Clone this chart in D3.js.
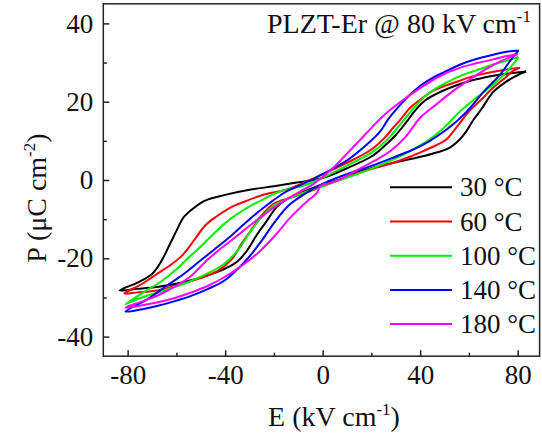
<!DOCTYPE html>
<html><head><meta charset="utf-8">
<script src="https://cdn.jsdelivr.net/npm/d3@7"></script>
<style>body{margin:0;background:#fff} svg{display:block}</style>
</head><body><svg id="c" width="542" height="442"></svg>
<script>
// ---- data (E in kV/cm, P in uC/cm2), each loop: descending branch then ascending branch
const seriesNames = ["30 \u00B0C", "60 \u00B0C", "100 \u00B0C", "140 \u00B0C", "180 \u00B0C"];
const xTicks = [-80, -40, 0, 40, 80];
const xMinorTicks = [-60, -20, 20, 60];
const yTicks = [-40, -20, 0, 20, 40];
const yMinorTicks = [-30, -10, 10, 30];

const loop30 = [
  [83.5,27.7],[78,27.3],[70,26.6],[60,25.2],[52,23.5],[46,21.8],[42,20.3],[38,17.8],[34,14.5],[30,11.5],[25,8.5],[20,6],[10,3],[0,0.5],[-10,-0.6],[-20,-1.6],[-30,-2.5],[-40,-3.8],[-48,-5.2],[-53,-7.2],[-57,-9.5],[-60,-13],[-63,-16.8],[-66,-20.5],[-70,-24],[-76,-26.2],[-83.3,-28.2],
  [-76,-27.8],[-68,-27.3],[-60,-26.5],[-54,-25.6],[-46,-24.1],[-40,-22.6],[-35,-20.8],[-31,-18],[-27,-14],[-23,-10.5],[-19,-7],[-15,-5],[-10,-3.6],[0,-1.1],[8,0.3],[15,2.1],[25,3.8],[35,5.2],[45,6.7],[52,8.2],[56,10.2],[59,12.5],[62,15.5],[65,18],[70,22.5],[75,25],[80,26.8],[83.5,27.7]
];
const loop60 = [
  [81,28.7],[76,28.3],[68,27.4],[60,26.2],[56,25.3],[50,24],[45,22.7],[40,20.5],[36,18.5],[32,15.5],[29,13.4],[25,10.5],[20,7.8],[10,4.4],[0,1.5],[-7,-0.5],[-15,-2.5],[-24,-3.7],[-32,-5.5],[-38,-7.1],[-44,-9.5],[-48,-11.5],[-52,-14.7],[-55,-17.3],[-58,-19.5],[-62,-21.5],[-68,-24],[-74,-26.5],[-81.4,-29],
  [-76,-28.7],[-68,-28.2],[-60,-27],[-54,-25.8],[-48,-24.6],[-43,-23.2],[-37,-20],[-33,-16],[-29,-12.5],[-25,-9],[-20,-6],[-13,-4.5],[-5,-2.8],[0,-1.6],[10,0.8],[20,2.8],[29,4.4],[36,6],[42,7.6],[47,9],[51,10.5],[55,13.5],[60,17.5],[65,20.5],[70,23.6],[75,26.2],[78,27.8],[81,28.7]
];
const loop100 = [
  [80.4,31.4],[76,30.6],[70,29.5],[63,28],[56.5,26.6],[50,24.6],[43,21.9],[38,18.8],[33,15.1],[26.5,10.3],[20,7],[10,3.7],[0,0.6],[-8,-1.5],[-17,-2.8],[-24,-4.8],[-31,-7.1],[-38,-10],[-45,-13.9],[-50,-17],[-55,-19.8],[-60,-22.8],[-66,-25.8],[-73,-28.5],[-80.9,-31.7],
  [-75,-30.2],[-68,-28.8],[-61,-27.4],[-54,-25.8],[-47,-23.8],[-40.6,-21.5],[-35,-18.1],[-30,-13.5],[-25,-9.5],[-20,-6.5],[-13,-4.5],[-5,-2.6],[0,-1.6],[10,0.6],[20,2.9],[30,5.5],[37,7.8],[43,10],[50,13.5],[56.5,17.6],[63,21],[70,24.4],[75,27.3],[80.4,31.4]
];
const loop140 = [
  [80.4,33.1],[76,32.8],[70,32],[63,30.9],[56.5,29.5],[50,27.6],[43,25.3],[37,22.5],[32,19.3],[27,15.6],[23.7,12.5],[18,9],[10,5],[0,1.5],[-8,-1],[-15,-3],[-22,-6],[-30,-10],[-38,-14.5],[-44,-17.5],[-50,-20.5],[-57,-24],[-64,-27],[-72,-30.5],[-80.9,-33.6],
  [-74,-33],[-68,-32.2],[-61,-31],[-54,-29.6],[-47,-27.8],[-40.6,-25.8],[-35,-22.8],[-30,-19.5],[-25,-15.5],[-20,-11],[-14,-6.5],[-8,-3.8],[0,-1],[10,1.5],[20,3.6],[30,6],[38,8],[44,10],[50,12.5],[55,15],[60.6,18.5],[66,22.5],[72.9,27],[77,30.5],[80.4,33.1]
];
const loop180 = [
  [80,32.1],[75,31.6],[70,30.8],[63,29.8],[56.5,28.7],[48,26.5],[39.4,23.2],[32,20],[25,16.5],[18,12],[11,7.4],[5,3.5],[0,0.8],[-4,-1.1],[-10,-3.2],[-17,-5.8],[-24,-8.8],[-31,-12.2],[-37,-15.2],[-43,-18.1],[-48,-20.8],[-54,-24.5],[-60,-27],[-67,-29.3],[-74,-31],[-80.9,-32.6],
  [-74,-32],[-68,-31.3],[-61,-30.2],[-54.3,-28.8],[-47,-27],[-40.6,-24.9],[-33,-21.8],[-25.6,-18.1],[-19,-13.8],[-13.3,-9.6],[-7,-5.8],[-2.3,-3.2],[-1,-1.5],[3,-0.8],[7.3,0.2],[14,2.5],[21,4.8],[27.8,7.4],[34,11],[40,15.9],[46,19],[53,22.5],[60,25.5],[67,28.3],[74,30.6],[80,32.1]
];
const loops = [loop30, loop60, loop100, loop140, loop180];
const colors = ["#000000", "#ff0000", "#00ee00", "#0000ff", "#ff00ff"];

// ---- drawing
const svg = d3.select("#c");
const serif = "'Liberation Serif','Times New Roman',serif";
const x = d3.scaleLinear().domain([-90, 89]).range([103.3, 539.6]);
const y = d3.scaleLinear().domain([-45, 45]).range([356.2, 3.8]);

const line = d3.line().x(d => x(d[0])).y(d => y(d[1])).curve(d3.curveCatmullRom.alpha(0.5));
const plot = svg.append("g");
loops.forEach((lp, i) => {
  plot.append("path").attr("d", line(lp)).attr("fill", "none")
    .attr("stroke", colors[i]).attr("stroke-width", 2).attr("stroke-linejoin", "round");
});

// frame
svg.append("rect").attr("x", x(-90)).attr("y", y(45))
  .attr("width", x(89) - x(-90)).attr("height", y(-45) - y(45))
  .attr("fill", "none").attr("stroke", "#222").attr("stroke-width", 1.5);

// axes with inward ticks
const fmt = d => String(d);
const xAxis = svg.append("g").attr("transform", `translate(0,${y(-45)})`)
  .call(d3.axisBottom(x).tickValues(xTicks).tickFormat(fmt).tickSizeInner(-6).tickSizeOuter(0).tickPadding(9));
const xMinor = svg.append("g").attr("transform", `translate(0,${y(-45)})`)
  .call(d3.axisBottom(x).tickValues(xMinorTicks).tickSizeInner(-3.5).tickSizeOuter(0).tickFormat(""));
const yAxis = svg.append("g").attr("transform", `translate(${x(-90)},0)`)
  .call(d3.axisLeft(y).tickValues(yTicks).tickFormat(fmt).tickSizeInner(-6).tickSizeOuter(0).tickPadding(10));
const yMinor = svg.append("g").attr("transform", `translate(${x(-90)},0)`)
  .call(d3.axisLeft(y).tickValues(yMinorTicks).tickSizeInner(-3.5).tickSizeOuter(0).tickFormat(""));
[xAxis, xMinor, yAxis, yMinor].forEach(g => {
  g.select(".domain").remove();
  g.selectAll(".tick line").attr("stroke", "#222").attr("stroke-width", 1.5);
  g.selectAll("text").attr("font-family", serif).attr("font-size", 27).attr("fill", "#111");
});
xAxis.selectAll("text").attr("dy", "0.71em");

// axis titles
const xt = svg.append("text").attr("x", 334).attr("y", 426).attr("text-anchor", "middle")
  .attr("font-family", serif).attr("font-size", 28).attr("fill", "#111");
xt.append("tspan").text("E (kV cm");
xt.append("tspan").text("-1").attr("font-size", 17).attr("dy", -11);
xt.append("tspan").text(")").attr("dy", 11);

const yt = svg.append("text").attr("transform", "translate(46,198) rotate(-90)").attr("text-anchor", "middle")
  .attr("font-family", serif).attr("font-size", 28).attr("fill", "#111");
yt.append("tspan").text("P (\u03BCC cm");
yt.append("tspan").text("-2").attr("font-size", 17).attr("dy", -11);
yt.append("tspan").text(")").attr("dy", 11);

// title
const tt = svg.append("text").attr("x", 531).attr("y", 33).attr("text-anchor", "end")
  .attr("font-family", serif).attr("font-size", 28).attr("fill", "#111");
tt.append("tspan").text("PLZT-Er @ 80 kV cm");
tt.append("tspan").text("-1").attr("font-size", 17).attr("dy", -11);

// legend
const lg = svg.append("g");
seriesNames.forEach((n, i) => {
  const yy = 187.3 + i * 34.2;
  lg.append("line").attr("x1", 390).attr("x2", 452).attr("y1", yy).attr("y2", yy)
    .attr("stroke", colors[i]).attr("stroke-width", 2);
  lg.append("text").attr("x", 460).attr("y", yy + 9).attr("font-family", serif)
    .attr("font-size", 27).attr("fill", "#111").text(n);
});
</script></body></html>
